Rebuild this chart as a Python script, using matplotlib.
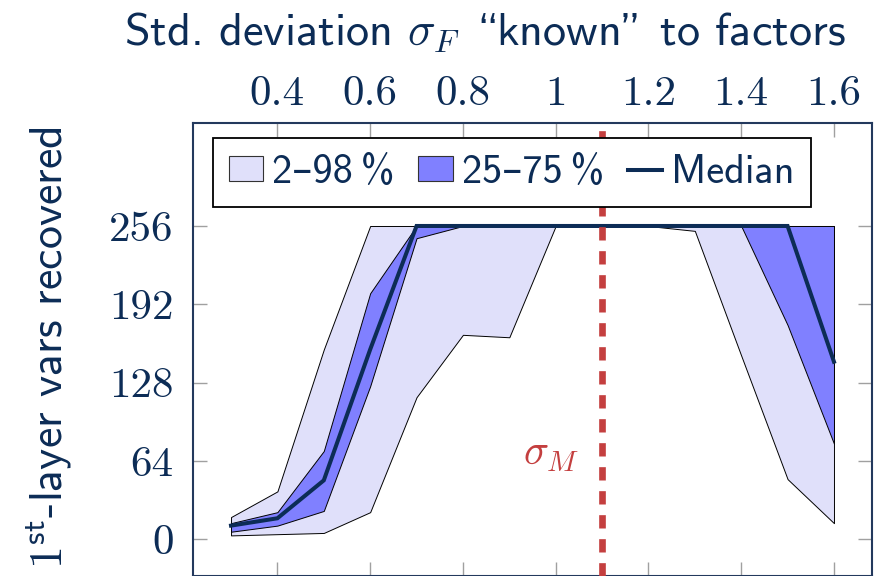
import matplotlib
matplotlib.use("Agg")
import matplotlib.pyplot as plt
from matplotlib.patches import Rectangle
from matplotlib.lines import Line2D

plt.rcParams['mathtext.fontset'] = 'cm'
plt.rcParams['font.family'] = ['cmss10', 'DejaVu Sans']
plt.rcParams['axes.unicode_minus'] = False

# percentiles of recovered first-layer variables vs. sigma_F
sigma_f = [0.3, 0.4, 0.5, 0.6, 0.7, 0.8, 0.9, 1.0, 1.1, 1.2, 1.3, 1.4, 1.5, 1.6]
p02 = [3, 4, 5, 22, 116, 167, 165, 256, 256, 256, 252, 150, 49, 13]
p25 = [6, 11, 23, 125, 246, 256, 256, 256, 256, 256, 256, 256, 175, 78]
median = [11, 17, 48, 155, 256, 256, 256, 256, 256, 256, 256, 256, 256, 145]
p75 = [13, 22, 72, 201, 256, 256, 256, 256, 256, 256, 256, 256, 256, 256]
p98 = [18, 39, 155, 256, 256, 256, 256, 256, 256, 256, 256, 256, 256, 256]
sigma_m = 1.1

xticks = [0.4, 0.6, 0.8, 1.0, 1.2, 1.4, 1.6]
xticklabels = ['0.4', '0.6', '0.8', '1', '1.2', '1.4', '1.6']
yticks = [0, 64, 128, 192, 256]
yticklabels = ['0', '64', '128', '192', '256']

navy = '#0c2c56'
light = '#e0e0fa'
mid = '#8080ff'
red = '#c43f3f'

fig = plt.figure(figsize=(8.89, 5.76), dpi=100)
ax = fig.add_axes([193 / 889, 0.0, 679 / 889, 453 / 576])

ax.fill_between(sigma_f, p02, p98, facecolor=light, edgecolor='black', lw=0.7, zorder=1)
ax.fill_between(sigma_f, p25, p75, facecolor=mid, edgecolor='black', lw=0.7, zorder=2)
ax.plot(sigma_f, median, color=navy, lw=2.9, zorder=3, solid_joinstyle='miter')

ax.axvline(sigma_m, color=red, lw=4.8, dashes=(2, 1.6), zorder=4)
ax.text(0.99, 68, r'$\sigma_M$', color=red, fontsize=30, ha='center', va='center')

ax.set_xlim(0.218, 1.682)
ax.set_ylim(-30.2, 340.2)
ax.set_xticks(xticks)
ax.set_xticklabels(xticklabels)
ax.set_yticks(yticks)
ax.set_yticklabels(yticklabels)
ax.set_axisbelow(True)
ax.tick_params(direction='in', length=10, width=1, color='#a0a0a0',
               top=True, bottom=True, left=True, right=True,
               labeltop=True, labelbottom=False, labelleft=True,
               labelsize=31, labelcolor=navy, labelfontfamily='cmr10')
ax.tick_params(axis='y', pad=14)
ax.tick_params(axis='x', pad=7)
for side in ax.spines.values():
    side.set_color('#23395d')
    side.set_linewidth(1.5)

handles = [
    Rectangle((0, 0), 1, 1, facecolor=light, edgecolor='#333333', lw=0.8),
    Rectangle((0, 0), 1, 1, facecolor=mid, edgecolor='#333333', lw=0.8),
    Line2D([], [], color=navy, lw=2.9),
]
labels = ['2\u201398\u2009%', '25\u201375\u2009%', 'Median']
leg = ax.legend(handles, labels, loc='upper left', bbox_to_anchor=(0.029, 0.967),
                borderaxespad=0, ncol=3, fontsize=29, frameon=True, fancybox=False,
                handlelength=0.85, handleheight=0.57, handletextpad=0.22,
                columnspacing=0.6, borderpad=0.4, labelcolor=navy)
leg.get_frame().set_edgecolor('black')
leg.get_frame().set_linewidth(1.3)
leg.get_frame().set_alpha(1)
leg.set_zorder(10)

# cmss10 keeps TeX's OT1 layout: backslash is the opening quote, '"' the closing one
fig.text(485 / 889, 1 - 45 / 576, 'Std. deviation $\\sigma_F$ \\known" to factors',
         fontsize=33.3, color=navy, ha='center', va='baseline')
fig.text(50 / 889, 1 - 348 / 576, r'$\mathsf{1}^{\mathsf{st}}$-layer vars recovered',
         fontsize=33, color=navy, rotation=90, ha='center', va='center')

fig.savefig('out.png', dpi=100)
